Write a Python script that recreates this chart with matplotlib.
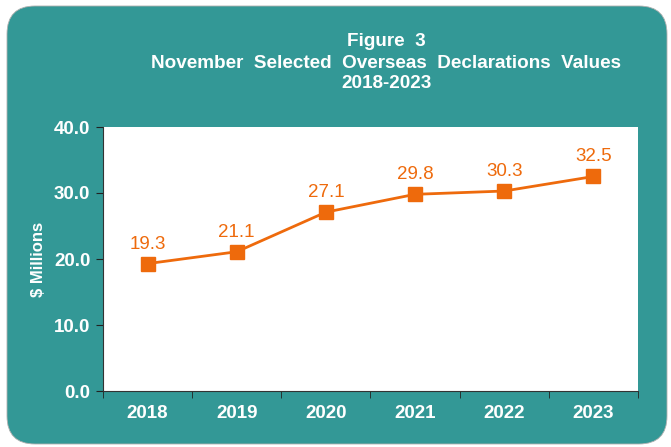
import matplotlib.pyplot as plt
from matplotlib.patches import FancyBboxPatch

years = ['2018', '2019', '2020', '2021', '2022', '2023']
values = [19.3, 21.1, 27.1, 29.8, 30.3, 32.5]
yticks = [0, 10, 20, 30, 40]

teal = '#339896'
orange = '#EE6A0C'

plt.rcParams['font.family'] = ['Liberation Sans', 'DejaVu Sans']

fig = plt.figure(figsize=(6.71, 4.47), dpi=100)
fig.patch.set_facecolor('white')
W, H = 671, 447

# background axes holding the rounded teal panel
bg = fig.add_axes([0, 0, 1, 1], zorder=0)
bg.set_xlim(0, W)
bg.set_ylim(0, H)
bg.axis('off')
bg.add_patch(FancyBboxPatch((7, 3), 660, 438,
                            boxstyle='round,pad=0,rounding_size=28',
                            facecolor=teal, edgecolor='#b0b0b0', linewidth=0.6))

ax = fig.add_axes([103 / W, 1 - 391 / H, 535 / W, 264 / H], zorder=2)
ax.set_facecolor('white')

x = list(range(len(years)))
ax.plot(x, values, color=orange, linewidth=2, marker='s', markersize=10,
        markerfacecolor=orange, markeredgecolor=orange, zorder=3)
for xi, v in zip(x, values):
    ax.annotate(f'{v:.1f}', (xi, v), xytext=(0, 8), textcoords='offset points',
                ha='center', va='bottom', color=orange, fontsize=13.5)

ax.set_xlim(-0.5, len(years) - 0.5)
ax.set_ylim(0, 40)
ax.set_yticks(yticks)
ax.set_yticklabels([f'{t:.1f}' for t in yticks], color='white',
                   fontsize=13.5, fontweight='bold')
ax.set_xticks(x)
ax.set_xticklabels(years, color='white', fontsize=13.5, fontweight='bold')
ax.tick_params(axis='x', length=0, pad=10)
ax.set_xticks([i - 0.5 for i in range(len(years) + 1)], minor=True)
ax.tick_params(axis='x', which='minor', length=5, color='#222222', direction='out')
ax.tick_params(axis='y', length=5, color='#222222', direction='out', pad=4)

for s in ['top', 'right']:
    ax.spines[s].set_visible(False)
for s in ['left', 'bottom']:
    ax.spines[s].set_color('#333333')
    ax.spines[s].set_linewidth(0.8)

ax.set_ylabel('$ Millions', color='white', fontsize=12, fontweight='bold', labelpad=6)

fig.text(386 / W, 1 - 42 / H, 'Figure  3', ha='center', va='center',
         color='white', fontsize=13.6, fontweight='bold')
fig.text(386 / W, 1 - 63 / H, 'November  Selected  Overseas  Declarations  Values',
         ha='center', va='center', color='white', fontsize=13.6, fontweight='bold')
fig.text(386 / W, 1 - 84 / H, '2018-2023', ha='center', va='center',
         color='white', fontsize=13.6, fontweight='bold')

fig.savefig('out.png', dpi=100, facecolor=fig.get_facecolor())
